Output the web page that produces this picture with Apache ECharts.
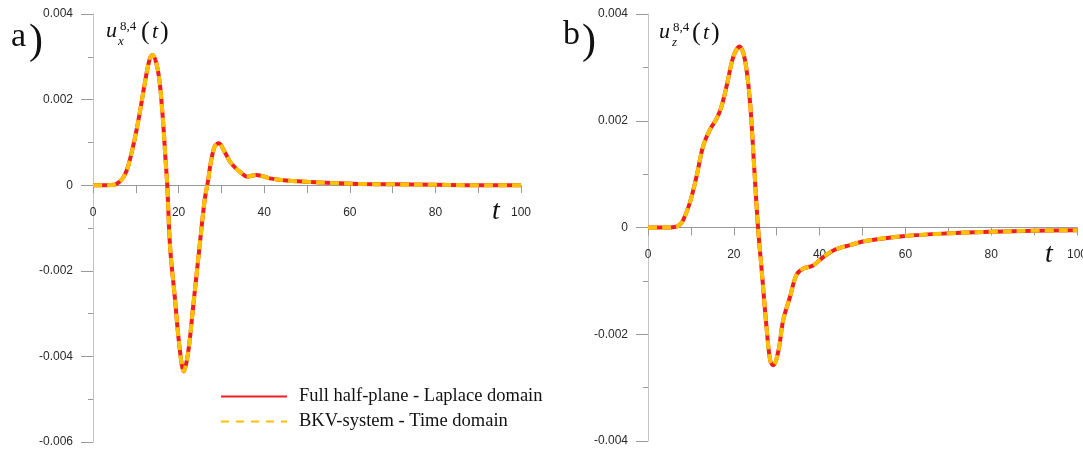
<!DOCTYPE html>
<html>
<head>
<meta charset="utf-8">
<script src="https://cdn.jsdelivr.net/npm/echarts@6/dist/echarts.min.js"></script>
<style>html,body{margin:0;padding:0;background:#fff;}#c{width:1083px;height:452px;}</style>
</head>
<body>
<div id="c"></div>
<script>
// ---- data ----
const tX = [0, 3, 5, 6.2, 7.2, 8.2, 9.7, 10.9, 12.1, 13.2, 13.9, 14.8, 15.6, 16.4, 16.9, 17.35, 18.0, 19.1, 20.2, 21.2, 22.2, 23.4, 24.9, 26.1, 26.9, 27.4, 28.4, 29.4, 30.7, 32.3, 34.7, 36.0, 38.2, 41.3, 45.2, 50, 56, 62, 70, 80, 90, 100];
const uX = [0, 0, 0.00001, 0.00008, 0.0002, 0.00044, 0.00106, 0.00168, 0.00238, 0.00293, 0.00304, 0.00285, 0.00238, 0.00145, 0.00067, 0.0, -0.00143, -0.0026, -0.00377, -0.00435, -0.00393, -0.00284, -0.00143, -0.00034, 0.00012, 0.00046, 0.0009, 0.00098, 0.00079, 0.00051, 0.00028, 0.0002, 0.00024, 0.00016, 0.00011, 0.00008, 0.00005, 0.00003, 0.00002, 0.00001, 0, 0];

const tZ = [0, 4, 6.2, 7.2, 8.2, 9.7, 11.3, 12.8, 14.4, 16, 17.1, 18.3, 19.9, 21.3, 22.6, 23.8, 24.7, 25.6, 26.5, 27.7, 28.5, 29.2, 30.4, 31.5, 33.1, 34.6, 36.2, 38.5, 40.5, 43.2, 47.1, 51, 60, 70, 80, 90, 100];
const uZ = [0, 0, 0.00001, 0.00004, 0.00014, 0.00045, 0.00095, 0.00151, 0.00183, 0.00204, 0.00226, 0.00264, 0.0032, 0.00339, 0.00314, 0.00233, 0.0012, 0.00005, -0.0008, -0.00193, -0.0025, -0.00258, -0.00231, -0.00174, -0.0013, -0.00089, -0.00077, -0.00071, -0.00058, -0.00043, -0.00033, -0.00025, -0.00016, -0.00011, -0.00008, -0.00006, -0.00005];

const xTickStep = 10;     // ticks every 10, labels every 20
const xLabelStep = 20;
const yLeftRange = [-0.006, 0.004];
const yRightRange = [-0.004, 0.004];
const yStep = 0.002;

const nameA = 'Full half-plane - Laplace domain';
const nameB = 'BKV-system - Time domain';
const RED = '#ee1c24';
const ORANGE = '#ffc000';

const grids = [
  { left: 93, top: 14, width: 428, height: 428 },
  { left: 648, top: 14, width: 429, height: 427 }
];
const ranges = [yLeftRange, yRightRange];

function pairs(t, u) { return t.map((v, i) => [v, u[i]]); }

function xAxis(g) {
  const r = ranges[g];
  // place the x axis on the y = 0 line (offset upwards from the grid bottom)
  const zeroOffset = -grids[g].height * (0 - r[0]) / (r[1] - r[0]);
  return {
    type: 'value', gridIndex: g, min: 0, max: 100, interval: xTickStep,
    position: 'bottom', offset: zeroOffset,
    axisLine: { onZero: false, lineStyle: { color: '#9a9a9a', width: 1 } },
    axisTick: { show: true, length: 8, lineStyle: { color: '#9a9a9a' } },
    splitLine: { show: false },
    axisLabel: {
      margin: 21, fontSize: 12, color: '#2a2a2a', fontFamily: 'Liberation Sans, Arial, sans-serif',
      formatter: v => (Math.round(v) % xLabelStep === 0 ? String(Math.round(v)) : '')
    }
  };
}
function yAxis(g) {
  const r = ranges[g];
  return {
    type: 'value', gridIndex: g, min: r[0], max: r[1], interval: yStep,
    axisLine: { show: true, onZero: false, lineStyle: { color: '#c4c4c4', width: 1 } },
    axisTick: { show: true, length: 12, lineStyle: { color: '#9a9a9a' } },
    minorTick: { show: true, splitNumber: 2, length: 5, lineStyle: { color: '#9a9a9a' } },
    splitLine: { show: false },
    axisLabel: {
      margin: 20, fontSize: 12, color: '#2a2a2a', fontFamily: 'Liberation Sans, Arial, sans-serif',
      formatter: v => (Math.abs(v) < 1e-9 ? '0' : v.toFixed(3))
    }
  };
}
function seriesPair(idx, t, u) {
  const d = pairs(t, u);
  return [
    { name: nameA, type: 'line', xAxisIndex: idx, yAxisIndex: idx, data: d, smooth: 0.35, symbol: 'none',
      lineStyle: { color: RED, width: 4 }, itemStyle: { color: RED }, z: 2 },
    { name: nameB, type: 'line', xAxisIndex: idx, yAxisIndex: idx, data: d, smooth: 0.35, symbol: 'none',
      lineStyle: { color: ORANGE, width: 4, type: [9, 5] }, itemStyle: { color: ORANGE }, z: 3 }
  ];
}

const serif = 'Liberation Serif, Times New Roman, serif';
function txt(x, y, text, font) {
  return { type: 'text', x: x, y: y, style: { text: text, font: font, fill: '#111' } };
}

const chart = echarts.init(document.getElementById('c'), null, { renderer: 'canvas' });
chart.setOption({
  animation: false,
  backgroundColor: '#fff',
  grid: grids.map(g => Object.assign({ containLabel: false, outerBoundsMode: 'none' }, g)),
  xAxis: [xAxis(0), xAxis(1)],
  yAxis: [yAxis(0), yAxis(1)],
  legend: {
    show: true, orient: 'vertical', left: 220, top: 387, padding: 0,
    itemWidth: 66, itemHeight: 12, itemGap: 6,
    textStyle: { fontFamily: serif, fontSize: 18.5, color: '#111', padding: [0, 0, 0, 7] },
    data: [
      { name: nameA, lineStyle: { color: RED, width: 2, type: 'solid' },
        itemStyle: { color: 'rgba(0,0,0,0)', borderWidth: 0, opacity: 0 } },
      { name: nameB, lineStyle: { color: ORANGE, width: 2, type: [8, 7] },
        itemStyle: { color: 'rgba(0,0,0,0)', borderWidth: 0, opacity: 0 } }
    ]
  },
  series: [].concat(seriesPair(0, tX, uX), seriesPair(1, tZ, uZ)),
  graphic: [
    // panel letters
    txt(11, 20, 'a', '34px ' + serif),
    txt(29, 21, ')', '42px ' + serif),
    txt(563, 18, 'b', '34px ' + serif),
    txt(582, 21, ')', '42px ' + serif),
    // panel a title u_x^{8,4}(t)
    txt(106, 20, 'u', 'italic 22px ' + serif),
    txt(120, 20, '8,4', '13px ' + serif),
    txt(118, 35, 'x', 'italic 13px ' + serif),
    txt(141, 19, '(', '26px ' + serif),
    txt(152, 21, 't', 'italic 22px ' + serif),
    txt(160, 19, ')', '26px ' + serif),
    // panel b title u_z^{8,4}(t)
    txt(659, 21, 'u', 'italic 22px ' + serif),
    txt(673, 21, '8,4', '13px ' + serif),
    txt(672, 36, 'z', 'italic 13px ' + serif),
    txt(692, 20, '(', '26px ' + serif),
    txt(703, 22, 't', 'italic 22px ' + serif),
    txt(711, 20, ')', '26px ' + serif),
    // axis t labels
    txt(492, 198, 't', 'italic 28px ' + serif),
    txt(1045, 241, 't', 'italic 28px ' + serif)
  ]
});
</script>
</body>
</html>
